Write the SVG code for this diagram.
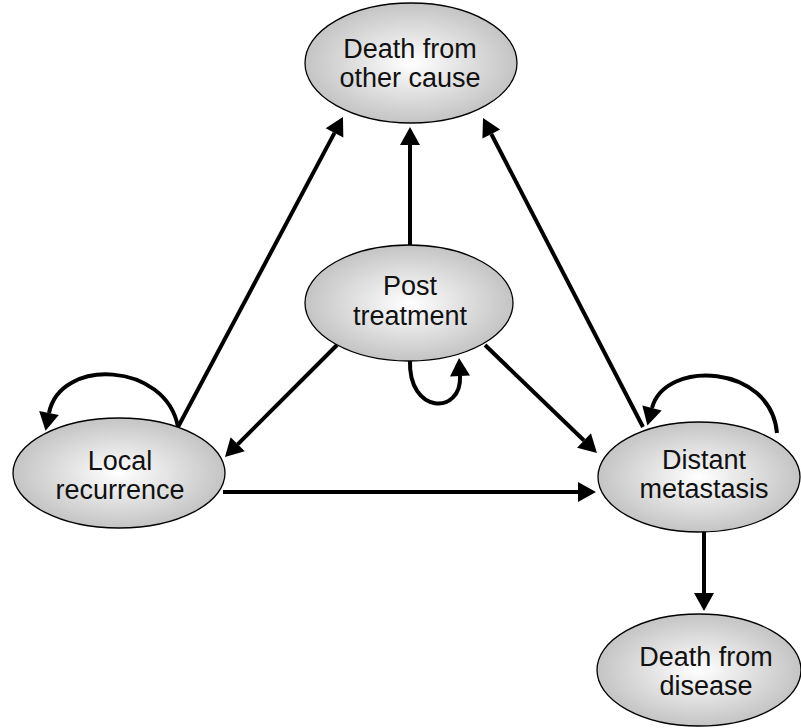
<svg xmlns="http://www.w3.org/2000/svg" width="801" height="728" viewBox="0 0 801 728">
<style>
.node ellipse{fill:url(#g);stroke:#000;stroke-width:1.3}
.node text{font-family:"Liberation Sans",Arial,sans-serif;font-size:27px;fill:#111;text-anchor:middle}
.edge{fill:none;stroke:#000;stroke-width:4;marker-end:url(#ah)}
</style>
<defs>
<radialGradient id="g" cx="50%" cy="50%" r="50%">
<stop offset="0" stop-color="#ffffff"/>
<stop offset="1" stop-color="#c4c4c4"/>
</radialGradient>
<marker id="ah" markerUnits="userSpaceOnUse" markerWidth="18" markerHeight="20" refX="0" refY="10" orient="auto" overflow="visible">
<path d="M0,0 L18,10 L0,20 z" fill="#000"/>
</marker>
</defs>
<rect width="801" height="728" fill="#fff"/>
<g id="connectors">
<path class="edge" d="M178,427 L334.5,132.9"/>
<path class="edge" d="M410,245 L410,145"/>
<path class="edge" d="M643,427 L491.3,134"/>
<path class="edge" d="M337,345 L237.7,444.3"/>
<path class="edge" d="M485,345 L584,440.5"/>
<path class="edge" d="M223,492 L578,492"/>
<path class="edge" d="M704,531 L704,593"/>
<path class="edge" d="M178,427 C166,362 60,357 49,413"/>
<path class="edge" d="M777,433 C771,364 665,359 652,408"/>
<path class="edge" d="M410,360 C408,415 462,415 460,376"/>
</g>
<g id="death-other" class="node">
<ellipse cx="411" cy="63" rx="106" ry="60"/>
<text x="410" y="58">Death from</text>
<text x="410" y="87">other cause</text>
</g>
<g id="post-treatment" class="node">
<ellipse cx="409" cy="303" rx="104" ry="58"/>
<text x="410" y="295">Post</text>
<text x="410" y="325">treatment</text>
</g>
<g id="local-recurrence" class="node">
<ellipse cx="119" cy="473" rx="106" ry="55"/>
<text x="120" y="470">Local</text>
<text x="120" y="499">recurrence</text>
</g>
<g id="distant-metastasis" class="node">
<ellipse cx="699" cy="477" rx="101" ry="55"/>
<text x="704" y="469">Distant</text>
<text x="704" y="498">metastasis</text>
</g>
<g id="death-disease" class="node">
<ellipse cx="699" cy="670" rx="102" ry="56"/>
<text x="706" y="666">Death from</text>
<text x="706" y="695">disease</text>
</g>
</svg>
